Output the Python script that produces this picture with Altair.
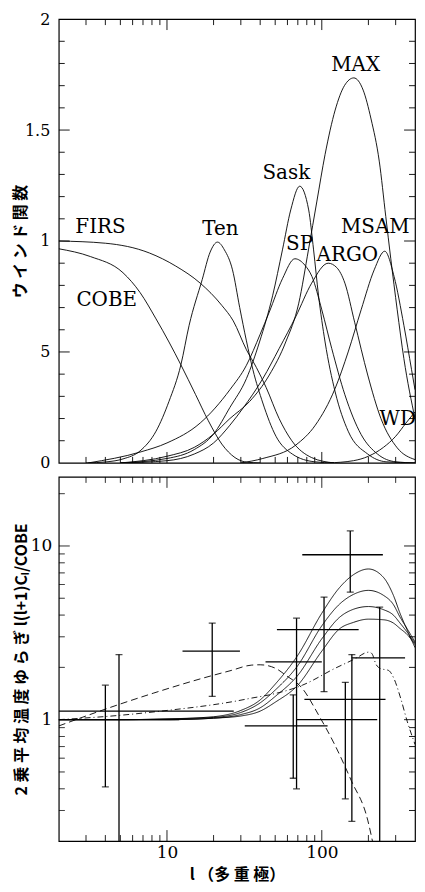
import math
import altair as alt
import pandas as pd

# ---------------- top panel: window functions (l, W) ----------------
FIRS_L = [2, 4, 7.7, 11.4, 16.4, 22.6, 26.8, 32.6, 37.8, 43.7, 53, 64, 86, 120]
FIRS_W = [1.0, 0.99, 0.946, 0.887, 0.81, 0.71, 0.64, 0.51, 0.43, 0.34, 0.2, 0.1, 0.024, 0.0]

COBE_L = [2, 3.2, 5.2, 6.7, 8.5, 10.3, 12.3, 15.3, 18.5, 22.6, 27.5, 33, 40]
COBE_W = [0.965, 0.93, 0.857, 0.768, 0.649, 0.545, 0.442, 0.308, 0.19, 0.085, 0.024, 0.003, 0.0]

TEN_L = [3, 4.1, 5.2, 6.7, 8.5, 10.3, 12.3, 13.9, 16.9, 19, 21.2, 23.5, 26.5, 29.5, 32.6, 35.9, 41.6, 50.6, 64.5, 90, 120]
TEN_W = [0.0, 0.005, 0.018, 0.054, 0.143, 0.277, 0.442, 0.62, 0.827, 0.95, 0.995, 0.96, 0.87, 0.70, 0.55, 0.42, 0.27, 0.12, 0.04, 0.005, 0.0]

SP_L = [3.1, 6.8, 10, 16.4, 25.5, 32.6, 40, 45.8, 55.7, 67, 78, 86.4, 100, 116, 141, 179.5, 229, 300, 400]
SP_W = [0.0, 0.05, 0.09, 0.18, 0.33, 0.44, 0.58, 0.68, 0.83, 0.92, 0.89, 0.84, 0.69, 0.515, 0.307, 0.128, 0.04, 0.005, 0.0]

SASK_L = [5, 10, 15, 20, 25.5, 32.6, 39.6, 48.1, 55.7, 63, 72, 82.3, 88.5, 95.3, 105, 122, 148, 198, 260, 400]
SASK_W = [0.0, 0.02, 0.06, 0.13, 0.25, 0.38, 0.545, 0.753, 0.96, 1.14, 1.247, 1.14, 0.96, 0.753, 0.545, 0.32, 0.143, 0.04, 0.005, 0.0]

ARGO_L = [5, 10, 15, 20, 25.5, 31, 41.6, 53, 68, 86, 110, 125, 141, 163, 198, 241, 307, 400]
ARGO_W = [0.0, 0.01, 0.04, 0.09, 0.17, 0.247, 0.38, 0.515, 0.66, 0.81, 0.9, 0.88, 0.81, 0.634, 0.396, 0.2, 0.068, 0.015]

MAX_L = [5, 10, 15, 20, 25.5, 34.2, 45.8, 58.5, 71, 82, 93, 105, 122, 140, 161, 185, 208, 235, 259, 279, 307, 339, 400]
MAX_W = [0.0, 0.03, 0.07, 0.13, 0.2, 0.277, 0.396, 0.545, 0.72, 0.96, 1.18, 1.39, 1.59, 1.70, 1.735, 1.68, 1.55, 1.36, 1.11, 0.92, 0.69, 0.47, 0.2]

MSAM_L = [30, 41.6, 67.8, 90.8, 122, 148, 179.5, 218, 255, 293, 339, 380, 400]
MSAM_W = [0.0, 0.02, 0.08, 0.17, 0.336, 0.5, 0.69, 0.87, 0.954, 0.84, 0.62, 0.42, 0.33]

WD_L = [110, 160, 200, 250, 300, 350, 400]
WD_W = [0.0, 0.01, 0.03, 0.07, 0.12, 0.18, 0.23]

LABEL_NAMES = ["FIRS", "COBE", "Ten", "Sask", "SP", "ARGO", "MAX", "MSAM", "WD"]
LABEL_L = [2.56, 2.6, 16.9, 41.4, 58.8, 92.5, 115, 133, 236]
LABEL_W = [1.0625, 0.732, 1.054, 1.308, 0.987, 0.9375, 1.795, 1.0625, 0.2]

# ---------------- bottom panel: band powers & models ----------------
PT_L = [4.0, 4.9, 19.6, 68.7, 65.4, 103.4, 152.7, 141.9, 156.4, 236.6]
PT_V = [1.12, 1.0, 2.48, 2.15, 0.92, 3.3, 8.9, 1.31, 1.0, 2.27]
PT_LO = [0.41, 0.1, 1.36, 0.40, 0.46, 1.45, 5.42, 0.35, 0.26, 0.1]
PT_HI = [1.58, 2.37, 3.6, 3.84, 1.39, 5.08, 12.2, 1.64, 2.37, 4.45]
PT_LMIN = [2, 2, 12.6, 43.3, 31.8, 51.3, 74.8, 77.2, 68.7, 156]
PT_LMAX = [27, 12, 29.6, 100, 109, 173, 248, 258, 228, 345]

TH_L = [2, 5, 10, 20, 30, 40, 50, 70, 100, 130, 160, 200, 250, 290, 320, 355, 400]
TH_A = [1.0, 1.0, 1.01, 1.04, 1.13, 1.3, 1.6, 2.35, 4.1, 5.75, 6.83, 7.37, 6.6, 5.2, 4.1, 3.3, 2.6]
TH_B = [1.0, 1.0, 1.01, 1.03, 1.1, 1.25, 1.48, 2.05, 3.47, 4.62, 5.26, 5.55, 5.2, 4.6, 3.9, 3.35, 2.8]
TH_C = [1.0, 1.0, 1.0, 1.02, 1.07, 1.17, 1.36, 1.8, 2.92, 3.88, 4.32, 4.48, 4.3, 4.0, 3.6, 3.2, 2.75]
TH_D = [1.0, 1.0, 1.0, 1.02, 1.05, 1.12, 1.26, 1.58, 2.48, 3.33, 3.63, 3.79, 3.76, 3.6, 3.35, 3.1, 2.7]

DASH_L = [2, 4, 8.15, 16.9, 26, 35, 40, 50, 58.6, 75, 95, 121, 155, 198, 215]
DASH_V = [0.92, 1.15, 1.42, 1.73, 1.92, 2.06, 2.07, 1.98, 1.8, 1.51, 1.07, 0.72, 0.446, 0.264, 0.19]

DOT_L = [2, 5, 10, 20, 28, 35, 46, 75, 121, 171, 190, 203, 212, 223, 239, 270, 292, 323, 356, 400]
DOT_V = [1.0, 1.06, 1.13, 1.22, 1.28, 1.33, 1.39, 1.58, 1.97, 2.29, 2.42, 2.45, 2.38, 2.1, 1.97, 1.92, 1.73, 1.33, 0.98, 0.72]

# ---------------- tick values ----------------
X_MINOR = [3, 4, 5, 6, 7, 8, 9, 20, 30, 40, 50, 60, 70, 80, 90, 200, 300]
X_MAJOR = [10, 100]
TOP_Y_MINOR = [0.1, 0.2, 0.3, 0.4, 0.6, 0.7, 0.8, 0.9, 1.1, 1.2, 1.3, 1.4, 1.6, 1.7, 1.8, 1.9]
TOP_Y_MAJOR = [0.5, 1.0, 1.5]
TOP_Y_LABELS = [0, 0.5, 1, 1.5, 2]
BOT_Y_MINOR = [0.3, 0.4, 0.5, 0.6, 0.7, 0.8, 0.9, 2, 3, 4, 5, 6, 7, 8, 9, 20]
BOT_Y_MAJOR = [1, 10]
BOT_X_LABELS = [10, 100]
BOT_Y_LABELS = [1, 10]

X_DOM = [2, 400]
TOP_Y_DOM = [0, 2]
BOT_Y_DOM = [0.2, 25]

SERIF = "DejaVu Serif"
JP = "Noto Sans CJK JP"
PW = 358
H_TOP = 446
H_BOT = 366
MINOR_LEN = 6
MAJOR_LEN = 11


def long_df(names, xs, ys, xname, yname):
    rows = []
    for n, xl, yl in zip(names, xs, ys):
        for i, (a, b) in enumerate(zip(xl, yl)):
            rows.append({"name": n, xname: a, yname: b, "i": i})
    return pd.DataFrame(rows)


def frame_tick_rows(xdom, ydom, ylog, w, h, xminor, xmajor, yminor, ymajor,
                    xname, yname):
    """Inward frame ticks as two-point line pieces, in data units."""
    x0, x1 = xdom
    y0, y1 = ydom
    rows = []
    k = 0

    def seg(xa, ya, xb, yb):
        nonlocal k
        rows.append({"name": f"tick{k}", xname: xa, yname: ya, "i": 0})
        rows.append({"name": f"tick{k}", xname: xb, yname: yb, "i": 1})
        k += 1

    for vals, ln in ((xminor, MINOR_LEN), (xmajor, MAJOR_LEN)):
        if ylog:
            f = 10 ** (ln * math.log10(y1 / y0) / h)
            top_end, bot_end = y1 / f, y0 * f
        else:
            d = ln * (y1 - y0) / h
            top_end, bot_end = y1 - d, y0 + d
        for t in vals:
            seg(t, y1, t, top_end)
            seg(t, y0, t, bot_end)
    for vals, ln in ((yminor, MINOR_LEN), (ymajor, MAJOR_LEN)):
        f = 10 ** (ln * math.log10(x1 / x0) / w)
        for t in vals:
            seg(x0, t, x0 * f, t)
            seg(x1, t, x1 / f, t)
    return pd.DataFrame(rows)


top_df = pd.concat([
    long_df(["FIRS", "COBE", "Ten", "SP", "Sask", "ARGO", "MAX", "MSAM", "WD"],
            [FIRS_L, COBE_L, TEN_L, SP_L, SASK_L, ARGO_L, MAX_L, MSAM_L, WD_L],
            [FIRS_W, COBE_W, TEN_W, SP_W, SASK_W, ARGO_W, MAX_W, MSAM_W, WD_W],
            "l", "w"),
    frame_tick_rows(X_DOM, TOP_Y_DOM, False, PW, H_TOP, X_MINOR, X_MAJOR,
                    TOP_Y_MINOR, TOP_Y_MAJOR, "l", "w"),
], ignore_index=True)
lab_df = pd.DataFrame({"name": LABEL_NAMES, "l": LABEL_L, "w": LABEL_W})

th_df = long_df(["A", "B", "C", "D", "E", "F"],
                [TH_L, TH_L, TH_L, TH_L, DASH_L, DOT_L],
                [TH_A, TH_B, TH_C, TH_D, DASH_V, DOT_V], "l", "v")
th_df["style"] = th_df["name"].map({"A": "solid", "B": "solid", "C": "solid",
                                    "D": "solid", "E": "dash", "F": "dashdot"})
bt = frame_tick_rows(X_DOM, BOT_Y_DOM, True, PW, H_BOT, X_MINOR, X_MAJOR,
                     BOT_Y_MINOR, BOT_Y_MAJOR, "l", "v")
bt["style"] = "solid"
th_df = pd.concat([th_df, bt], ignore_index=True)

pt_df = pd.DataFrame({"l": PT_L, "v": PT_V, "lo": PT_LO, "hi": PT_HI,
                      "lmin": PT_LMIN, "lmax": PT_LMAX})

x_top = alt.Scale(type="log", domain=X_DOM, nice=False)
y_top = alt.Scale(type="linear", domain=TOP_Y_DOM, nice=False, zero=False)
x_bot = alt.Scale(type="log", domain=X_DOM, nice=False)
y_bot = alt.Scale(type="log", domain=BOT_Y_DOM, nice=False)

AX_TOP_Y = alt.Axis(
    orient="left", values=TOP_Y_LABELS,
    labelExpr="datum.value == 0.5 ? '5' : '' + datum.value",
    ticks=False, tickSize=0, domain=False, grid=False,
    labelFont=SERIF, labelFontSize=16, labelPadding=9, labelColor="black",
    title="ウ イ ン ド 関 数", titleFont=JP, titleFontSize=16,
    titleFontWeight="bold", titleAngle=270, titleX=-38,
    titleBaseline="middle", titleAlign="center", titleColor="black")
AX_BOT_X = alt.Axis(
    orient="bottom", values=BOT_X_LABELS, labelExpr="'' + datum.value",
    ticks=False, tickSize=0, domain=False, grid=False,
    labelFont=SERIF, labelFontSize=17, labelPadding=4, labelColor="black",
    title="l （多 重 極）", titleFont=JP, titleFontSize=16,
    titleFontWeight="bold", titlePadding=6, titleColor="black")
AX_BOT_Y = alt.Axis(
    orient="left", values=BOT_Y_LABELS, labelExpr="'' + datum.value",
    ticks=False, tickSize=0, domain=False, grid=False,
    labelFont=SERIF, labelFontSize=17, labelPadding=7, labelColor="black",
    title="2 乗 平 均 温 度 ゆ ら ぎ   l(l+1)Cₗ/COBE", titleFont=JP,
    titleFontSize=16, titleFontWeight="bold", titleAngle=270, titleX=-37,
    titleBaseline="middle", titleAlign="center", titleColor="black")

top_lines = alt.Chart(top_df).mark_line(
    color="black", strokeWidth=0.9, interpolate="monotone", clip=True
).encode(
    x=alt.X("l:Q", scale=x_top, axis=None),
    y=alt.Y("w:Q", scale=y_top, axis=AX_TOP_Y),
    detail="name:N", order="i:Q")

top_text = alt.Chart(lab_df).mark_text(
    align="left", baseline="middle", font=SERIF, fontSize=20, color="black"
).encode(
    x=alt.X("l:Q", scale=x_top, axis=None),
    y=alt.Y("w:Q", scale=y_top, axis=None),
    text="name:N")

top = alt.layer(top_lines, top_text).resolve_axis(
    x="independent", y="independent").properties(width=PW, height=H_TOP)

theory = alt.Chart(th_df).mark_line(
    color="black", strokeWidth=0.9, interpolate="monotone", clip=True
).encode(
    x=alt.X("l:Q", scale=x_bot, axis=AX_BOT_X),
    y=alt.Y("v:Q", scale=y_bot, axis=AX_BOT_Y),
    detail="name:N", order="i:Q",
    strokeDash=alt.StrokeDash("style:N", scale=alt.Scale(
        domain=["solid", "dash", "dashdot"],
        range=[[1, 0], [7, 4], [6, 3, 1, 3]]), legend=None))

vbar = alt.Chart(pt_df).mark_rule(color="black", strokeWidth=1.3, clip=True).encode(
    x=alt.X("l:Q", scale=x_bot, axis=None),
    y=alt.Y("lo:Q", scale=y_bot, axis=None), y2="hi:Q")
hbar = alt.Chart(pt_df).mark_rule(color="black", strokeWidth=1.3, clip=True).encode(
    x=alt.X("lmin:Q", scale=x_bot, axis=None), x2="lmax:Q",
    y=alt.Y("v:Q", scale=y_bot, axis=None))
cap_lo = alt.Chart(pt_df).mark_tick(orient="horizontal", size=7, thickness=1.3,
                                    color="black", clip=True).encode(
    x=alt.X("l:Q", scale=x_bot, axis=None),
    y=alt.Y("lo:Q", scale=y_bot, axis=None))
cap_hi = alt.Chart(pt_df).mark_tick(orient="horizontal", size=7, thickness=1.3,
                                    color="black", clip=True).encode(
    x=alt.X("l:Q", scale=x_bot, axis=None),
    y=alt.Y("hi:Q", scale=y_bot, axis=None))

bottom = alt.layer(theory, hbar, vbar, cap_lo, cap_hi).resolve_axis(
    x="independent", y="independent").properties(width=PW, height=H_BOT)

chart = alt.vconcat(top, bottom, spacing=4).properties(
    padding={"left": 4, "top": 0, "right": 0, "bottom": 0},
    background="white"
).configure_view(stroke="black", strokeWidth=1.2)

chart.save("out.html", embed_options={"renderer": "svg", "actions": False})
